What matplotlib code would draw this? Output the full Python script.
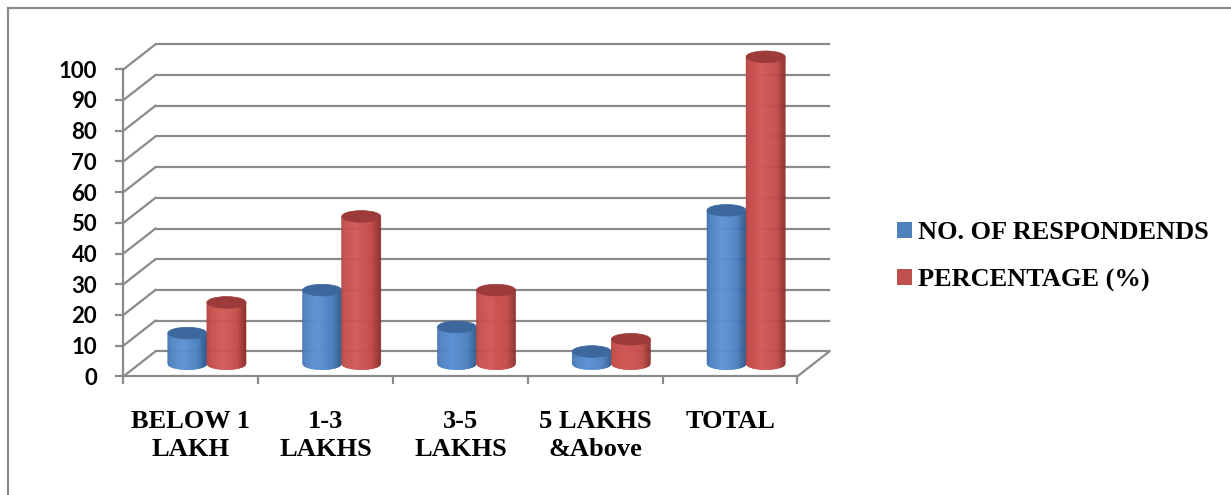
import matplotlib
matplotlib.use('Agg')
import matplotlib.pyplot as plt
import matplotlib.transforms as mtransforms
from matplotlib.collections import PolyCollection
from matplotlib.patches import Ellipse, Patch
from matplotlib.lines import Line2D
from matplotlib.colors import to_rgb
import numpy as np

categories = ['BELOW 1\nLAKH', '1-3\nLAKHS', '3-5\nLAKHS', '5 LAKHS\n&Above', 'TOTAL']
respondents = [10, 24, 12, 4, 50]
percentage = [20, 48, 24, 8, 100]
series_names = ['NO. OF RESPONDENDS', 'PERCENTAGE (%)']
yticks = list(range(0, 101, 10))

# colours: legend swatch, dark edge, mid, highlight, top cap
blue = ['#4f81bd', '#2e5a8f', '#4a7dba', '#5d92d6', '#3c689e']
red = ['#c0504d', '#8c302e', '#c04b48', '#d25855', '#9c3b39']
grid_col = '#8a8a8a'

W, H = 1231, 495
fig = plt.figure(figsize=(W / 100, H / 100), dpi=100)
ax = fig.add_axes([123.5 / W, 118.7 / H, 674 / W, 307 / H])
ax.set_xlim(0, len(categories))
ax.set_ylim(0, 100)
ax.patch.set_visible(False)

# depth of the 3d box in pixels
DX, DY = 32, 25
back = mtransforms.offset_copy(ax.transData, fig=fig, x=DX, y=DY, units='dots')
mid = mtransforms.offset_copy(ax.transData, fig=fig, x=DX / 2, y=DY / 2, units='dots')

# back wall gridlines + side wall diagonals
for v in yticks:
    ax.plot([0, len(categories)], [v, v], color=grid_col, lw=1.6, transform=back,
            clip_on=False, zorder=1)
    p = ax.transData.transform((0, v))
    fig.add_artist(Line2D([p[0], p[0] + DX], [p[1], p[1] + DY], color=grid_col, lw=1.6,
                          transform=mtransforms.IdentityTransform(), zorder=1))
p = ax.transData.transform((len(categories), 0))
fig.add_artist(Line2D([p[0], p[0] + DX], [p[1], p[1] + DY], color=grid_col, lw=1.6,
                      transform=mtransforms.IdentityTransform(), zorder=1))

# front axes
for s in ['top', 'right']:
    ax.spines[s].set_visible(False)
for s in ['left', 'bottom']:
    ax.spines[s].set_color(grid_col)
    ax.spines[s].set_linewidth(1.6)
ax.set_yticks(yticks)
ax.set_yticklabels([str(v) for v in yticks])
ax.tick_params(axis='y', direction='out', length=6, width=1.6, color=grid_col, pad=13)
ax.set_xticks(np.arange(len(categories)) + 0.5)
ax.set_xticklabels(categories)
ax.set_xticks(np.arange(len(categories) + 1), minor=True)
ax.tick_params(axis='x', which='major', length=0, pad=24)
ax.tick_params(axis='x', which='minor', direction='out', length=6, width=1.6, color=grid_col)
for t in ax.get_yticklabels():
    t.set_fontfamily('Lato')
    t.set_fontweight('bold')
    t.set_fontsize(16)
for t in ax.get_xticklabels():
    t.set_fontfamily('Liberation Serif')
    t.set_fontweight('bold')
    t.set_fontsize(19)
    t.set_linespacing(1.3)

# cylinders
BW = 0.29
ELL = 3.8
anchors_t = [0, 0.1, 0.4, 0.75, 1.0]
anchors_b = [-0.3, 0.3, 1.0, 0.2, -1.0]


def shade(cols, t):
    dark, base, light = (np.array(to_rgb(c)) for c in cols[1:4])
    b = np.interp(t, anchors_t, anchors_b)
    if b >= 0:
        return tuple(base + b * (light - base))
    return tuple(base + (-b) * (dark - base))


def cylinder(x0, value, cols):
    n = 40
    edges = np.linspace(x0, x0 + BW, n + 1)
    cx, a, b = x0 + BW / 2, BW / 2, ELL / 2
    polys, fcs = [], []
    for k in range(n):
        xl, xr = edges[k], edges[k + 1]
        yl = -b * np.sqrt(max(0.0, 1 - ((xl - cx) / a) ** 2))
        yr = -b * np.sqrt(max(0.0, 1 - ((xr - cx) / a) ** 2))
        polys.append([(xl, yl), (xr, yr), (xr, value), (xl, value)])
        fcs.append(shade(cols, (k + 0.5) / n))
    coll = PolyCollection(polys, facecolors=fcs, edgecolors=fcs, linewidths=0.4,
                          transform=mid, clip_on=False, zorder=3)
    ax.add_collection(coll)
    ax.add_patch(Ellipse((cx, value), BW, ELL, facecolor=cols[4], edgecolor=cols[4],
                         lw=0.5, transform=mid, clip_on=False, zorder=3))


for i in range(len(categories)):
    c = i + 0.5
    cylinder(c - BW, respondents[i], blue)
    cylinder(c, percentage[i], red)

# legend
handles = [Patch(facecolor=blue[0]), Patch(facecolor=red[0])]
fig.legend(handles, series_names, loc='upper left', bbox_to_anchor=(897 / W, 1 - 221 / H),
           frameon=False, borderpad=0, borderaxespad=0, handlelength=0.55, handleheight=0.55,
           handletextpad=0.25, labelspacing=0.92,
           prop={'family': 'Liberation Serif', 'weight': 'bold', 'size': 19})

# chart area border
fig.add_artist(Line2D([7.5 / W, 1], [1 - 8 / H, 1 - 8 / H], color=grid_col, lw=1.6))
fig.add_artist(Line2D([7.5 / W, 7.5 / W], [0, 1 - 8 / H], color=grid_col, lw=1.6))

fig.savefig('out.png', dpi=100)
